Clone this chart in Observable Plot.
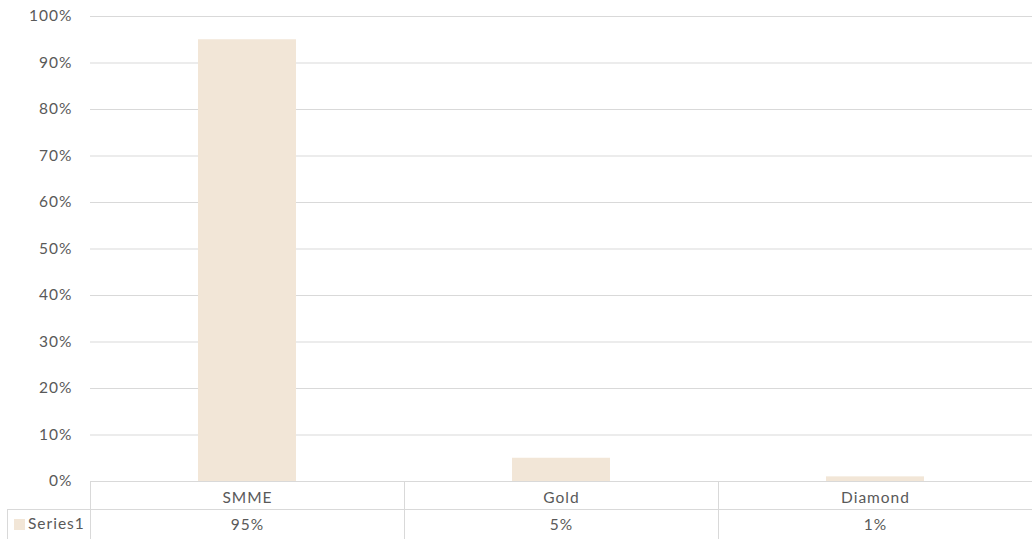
<!DOCTYPE html>
<html>
<head>
<meta charset="utf-8">
<script src="https://cdn.jsdelivr.net/npm/d3@7"></script>
<script src="https://cdn.jsdelivr.net/npm/@observablehq/plot@0.6"></script>
<style>
  html, body { margin: 0; padding: 0; background: #fff; }
  #chart svg { display: block; }
</style>
</head>
<body>
<div id="chart"></div>
<script>
const categories = ["SMME", "Gold", "Diamond"];
const values = [0.95, 0.05, 0.01];
const valueLabels = ["95%", "5%", "1%"];
const seriesName = "Series1";
const yTicks = [0, 0.1, 0.2, 0.3, 0.4, 0.5, 0.6, 0.7, 0.8, 0.9, 1.0];

const barColor = "#F2E6D7";
const gridColor = "#D9D9D9";
const textColor = "#595959";
const font = "Lato, 'Open Sans', sans-serif";

const data = categories.map((c, i) => ({category: c, value: values[i], label: valueLabels[i]}));

const chart = Plot.plot({
  width: 1032,
  height: 539,
  marginLeft: 90,
  marginRight: 0,
  marginTop: 16,
  marginBottom: 58,
  style: {fontFamily: font, fontSize: "15.5px", color: textColor, background: "#fff", letterSpacing: "1px"},
  x: {domain: categories, padding: 0, axis: null},
  y: {domain: [0, 1], label: null},
  marks: [
    Plot.ruleY(yTicks, {stroke: gridColor, strokeWidth: 1}),
    Plot.barY(data, {x: "category", y: "value", fill: barColor, insetLeft: 108, insetRight: 108}),
    Plot.axisY(yTicks, {label: null, tickSize: 0, tickPadding: 18, tickFormat: d3.format(".0%"), fill: textColor, fontSize: 15.5}),
    Plot.text(data, {x: "category", text: "category", frameAnchor: "bottom", lineAnchor: "middle", dy: 16.5, fill: textColor, fontSize: 15.5}),
    Plot.text(data, {x: "category", text: "label", frameAnchor: "bottom", lineAnchor: "middle", dy: 43.5, fill: textColor, fontSize: 15.5})
  ]
});

// Data table grid (derived from the band scale)
const svg = d3.select(chart);
const xs = chart.scale("x");
const x0 = xs.range[0];
const x1 = xs.range[1];
const yTop = 481, yMid = 509, yBot = 539;
const g = svg.append("g").attr("stroke", gridColor).attr("stroke-width", 1).attr("shape-rendering", "crispEdges");
g.append("line").attr("x1", x0).attr("x2", x1).attr("y1", yTop + 0.5).attr("y2", yTop + 0.5);
g.append("line").attr("x1", 7).attr("x2", x1).attr("y1", yMid + 0.5).attr("y2", yMid + 0.5);
g.append("line").attr("x1", 7.5).attr("x2", 7.5).attr("y1", yMid).attr("y2", yBot);
categories.forEach((c, i) => {
  const bx = Math.round(x0 + i * (x1 - x0) / categories.length) + 0.5;
  g.append("line").attr("x1", bx).attr("x2", bx).attr("y1", yTop).attr("y2", yBot);
});
// Legend key inside table
svg.append("rect").attr("x", 14).attr("y", 519).attr("width", 11).attr("height", 11).attr("fill", barColor);
svg.append("text").attr("x", 28).attr("y", 524.5).attr("dy", "0.32em")
  .attr("text-anchor", "start")
  .attr("fill", textColor).attr("font-size", 15.5).attr("font-family", font)
  .text(seriesName);

document.getElementById("chart").appendChild(chart);
</script>
</body>
</html>
